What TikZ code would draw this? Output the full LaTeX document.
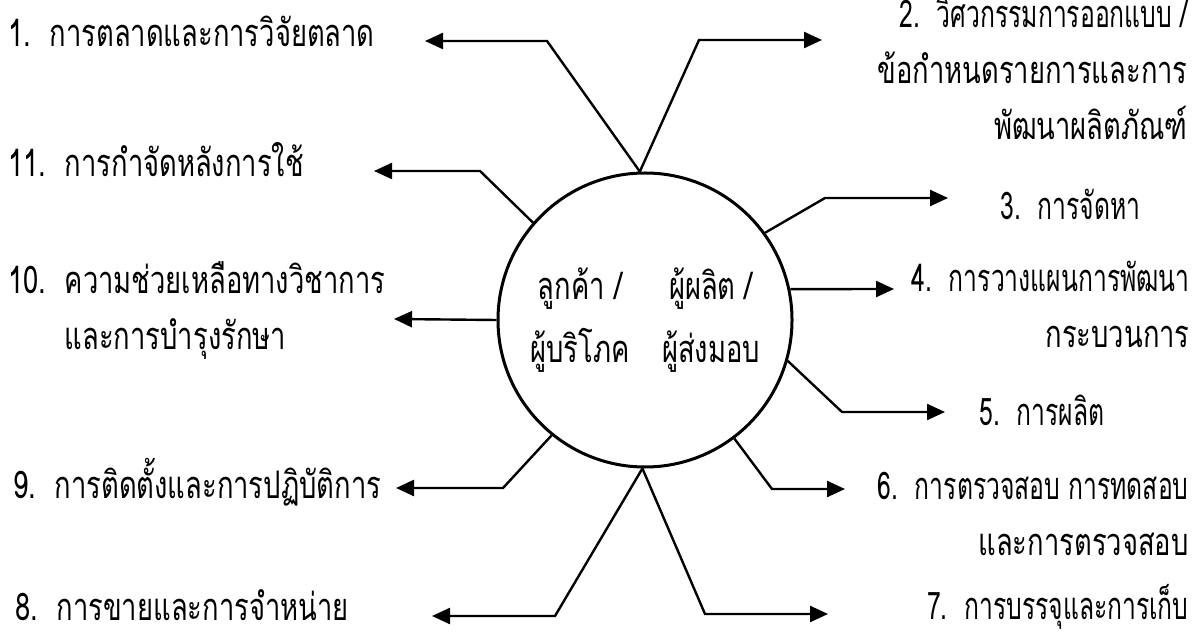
\documentclass[tikz,border=0pt]{standalone}
\usepackage{fontspec}
\newfontfamily\thaifont[Script=Thai,FakeStretch=0.72]{Loma}
\newfontfamily\thaistretto[Script=Thai,FakeStretch=0.65]{Loma}
\usetikzlibrary{arrows.meta}

\begin{document}
\begin{tikzpicture}[x=0.5pt,y=-0.5pt,
font=\thaifont\fontsize{19pt}{28pt}\selectfont,
cerchio/.style={draw,circle,line width=1.5pt,minimum size=147pt,inner sep=0pt},
freccia/.style={line width=1.2pt,-{Triangle[length=9pt,width=8pt]}},
testoS/.style={anchor=base west,align=left,inner sep=0pt},
testoD/.style={anchor=base east,align=right,inner sep=0pt},
testoC/.style={anchor=base,align=center,inner sep=0pt,font=\thaifont\fontsize{19pt}{31.5pt}\selectfont}
]
\useasboundingbox (0,0) rectangle (1202,635);
\node[cerchio] (cc) at (645,320) {};
\node[testoC] (cliente) at (580,363) {ลูกค้า /\\ผู้บริโภค};
\node[testoC] (fornitore) at (711,363) {ผู้ผลิต /\\ผู้ส่งมอบ};
%-- lato sinistro
\node[testoS] (l1) at (8,47) {1.\ \ การตลาดและการวิจัยตลาด};
\coordinate (p1) at (425,41);
\draw[freccia] (cc.92) -- (547,41) -- (p1);
%--
\node[testoS] (l11) at (8,177) {11.\ \ การกำจัดหลังการใช้};
\coordinate (p11) at (374,171);
\draw[freccia] (cc.139) -- (480,171) -- (p11);
%--
\node[testoS] (l10) at (8,350) {10.\ \ ความช่วยเหลือทางวิชาการ\\\phantom{10.\ \ }และการบำรุงรักษา};
\coordinate (p10) at (394,319);
\draw[freccia] (cc.180) -- (p10);
%--
\node[testoS] (l9) at (13,498) {9.\ \ การติดตั้งและการปฏิบัติการ};
\coordinate (p9) at (396,488);
\draw[freccia] (cc.231) -- (503,488) -- (p9);
%--
\node[testoS] (l8) at (15,620) {8.\ \ การขายและการจำหน่าย};
\coordinate (p8) at (432,616);
\draw[freccia] (cc.269) -- (555,616) -- (p8);
%-- lato destro
\node[testoD] (l2) at (1188,140) {{\thaistretto 2.\ \ วิศวกรรมการออกแบบ /}\\ข้อกำหนดรายการและการ\\พัฒนาผลิตภัณฑ์};
\coordinate (p2) at (822,40);
\draw[freccia] (cc.92) -- (699,40) -- (p2);
%--
\node[testoS,font=\thaistretto\fontsize{19pt}{28pt}\selectfont] (l3) at (1000,220) {3.\ \ การจัดหา};
\coordinate (p3) at (948,198);
\draw[freccia] (cc.36) -- (825,198) -- (p3);
%--
\node[testoD] (l4) at (1190,348) {{\thaistretto 4.\ \ การวางแผนการพัฒนา}\\กระบวนการ};
\coordinate (p4) at (894,289);
\draw[freccia] (cc.12) -- (p4);
%--
\node[testoS,font=\thaistretto\fontsize{19pt}{28pt}\selectfont] (l5) at (979,425) {5.\ \ การผลิต};
\coordinate (p5) at (945,412);
\draw[freccia] (cc.344) -- (842,412) -- (p5);
%--
\node[testoD] (l6) at (1189,555) {{\thaistretto 6.\ \ การตรวจสอบ การทดสอบ}\\และการตรวจสอบ};
\coordinate (p6) at (845,489);
\draw[freccia] (cc.307) -- (772,489) -- (p6);
%--
\node[testoD,font=\thaistretto\fontsize{19pt}{28pt}\selectfont] (l7) at (1189,619) {7.\ \ การบรรจุและการเก็บ};
\coordinate (p7) at (828,614);
\draw[freccia] (cc.269) -- (705,614) -- (p7);
\end{tikzpicture}
\end{document}
